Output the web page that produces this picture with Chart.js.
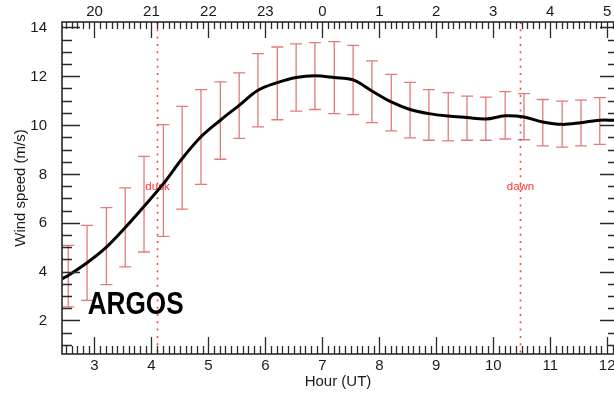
<!DOCTYPE html>
<html>
<head>
<meta charset="utf-8">
<script src="https://cdn.jsdelivr.net/npm/chart.js@4/dist/chart.umd.min.js"></script>
<style>
  html, body { margin: 0; padding: 0; background: #fff; }
  canvas { display: block; }
</style>
</head>
<body>
<canvas id="windChart" width="614" height="396"></canvas>
<script>
// Hour (UT) of each 20-minute bin
const hours = [2.54, 2.87, 3.21, 3.54, 3.87, 4.21, 4.54, 4.87, 5.21, 5.54,
               5.87, 6.21, 6.54, 6.87, 7.21, 7.54, 7.87, 8.21, 8.54, 8.87,
               9.21, 9.54, 9.87, 10.21, 10.54, 10.87, 11.21, 11.54, 11.87];
// mean wind speed (m/s), the black curve
const meanSpeed = [3.84, 4.36, 5.0, 5.8, 6.67, 7.6, 8.63, 9.52, 10.2, 10.81,
                   11.43, 11.74, 11.95, 12.02, 11.95, 11.85, 11.4, 10.95, 10.64, 10.47,
                   10.37, 10.31, 10.25, 10.38, 10.33, 10.13, 10.03, 10.1, 10.2];
// error bar ends
const upperSpeed = [5.07, 5.89, 6.62, 7.43, 8.72, 10.02, 10.77, 11.45, 11.77, 12.14,
                    12.93, 13.2, 13.33, 13.38, 13.42, 13.27, 12.63, 12.08, 11.75, 11.45,
                    11.33, 11.19, 11.15, 11.37, 11.29, 11.05, 10.98, 11.02, 11.13];
const lowerSpeed = [2.55, 2.82, 3.46, 4.19, 4.8, 5.44, 6.56, 7.57, 8.6, 9.46,
                    9.93, 10.22, 10.57, 10.64, 10.47, 10.43, 10.1, 9.76, 9.48, 9.38,
                    9.35, 9.38, 9.38, 9.43, 9.4, 9.15, 9.1, 9.15, 9.21];
// curve where it meets the plot edges
const edgeHours = [2.43, 12.12];
const edgeSpeed = [3.7, 10.2];

// axes
const xTicks = [3, 4, 5, 6, 7, 8, 9, 10, 11, 12];
const topLabels = ['20', '21', '22', '23', '0', '1', '2', '3', '4', '5'];
const yTicks = [2, 4, 6, 8, 10, 12, 14];

// dusk / dawn markers
const eventNames = ['dusk', 'dawn'];
const eventHours = [4.09, 10.47];

const X_MIN = 2.43, X_MAX = 12.12;
const Y_MIN = 0.62, Y_MAX = 14.225;

const FONT_FAMILY = '"Liberation Sans", Arial, sans-serif';
const labelFont = { family: FONT_FAMILY, size: 15 };
const axisColor = '#2a2a2a';

const curve = [{ x: edgeHours[0], y: edgeSpeed[0] }]
    .concat(hours.map((h, i) => ({ x: h, y: meanSpeed[i] })))
    .concat([{ x: edgeHours[1], y: edgeSpeed[1] }]);

// error bars, dusk/dawn lines under the curve
const underlay = {
    id: 'underlay',
    beforeDatasetsDraw(chart) {
        const { ctx, chartArea, scales: { x, y } } = chart;
        ctx.save();
        ctx.beginPath();
        ctx.rect(chartArea.left, chartArea.top, chartArea.width, chartArea.height);
        ctx.clip();

        ctx.strokeStyle = 'rgba(214, 72, 72, 0.72)';
        ctx.lineWidth = 1.3;
        hours.forEach((h, i) => {
            const px = x.getPixelForValue(h);
            const top = y.getPixelForValue(upperSpeed[i]);
            const bot = y.getPixelForValue(lowerSpeed[i]);
            ctx.beginPath();
            ctx.moveTo(px, top); ctx.lineTo(px, bot);
            ctx.moveTo(px - 6, top); ctx.lineTo(px + 6, top);
            ctx.moveTo(px - 6, bot); ctx.lineTo(px + 6, bot);
            ctx.stroke();
        });

        ctx.strokeStyle = 'rgba(255, 50, 50, 0.9)';
        ctx.lineWidth = 1.6;
        ctx.setLineDash([2, 5.3]);
        ctx.fillStyle = 'rgba(255, 40, 40, 0.95)';
        ctx.font = '11.5px ' + FONT_FAMILY;
        ctx.textAlign = 'center';
        ctx.textBaseline = 'middle';
        eventHours.forEach((h, i) => {
            const px = Math.round(x.getPixelForValue(h)) + 0.5;
            ctx.beginPath();
            ctx.moveTo(px, chartArea.top);
            ctx.lineTo(px, chartArea.bottom);
            ctx.stroke();
            ctx.fillText(eventNames[i], px, y.getPixelForValue(7.47));
        });
        ctx.restore();
    }
};

// IDL style frame with inward ticks, tick labels and the ARGOS label
const frame = {
    id: 'frame',
    afterDraw(chart) {
        const { ctx, chartArea: a, scales: { x, y } } = chart;
        ctx.save();
        ctx.fillStyle = '#000';
        ctx.font = 'bold 32px "Liberation Sans Narrow", "Liberation Sans", Arial, sans-serif';
        ctx.textAlign = 'left';
        ctx.textBaseline = 'alphabetic';
        ctx.fillText('ARGOS', x.getPixelForValue(2.88), y.getPixelForValue(2.24), 96);

        // tick labels
        ctx.fillStyle = '#1a1a1a';
        ctx.font = '15px ' + FONT_FAMILY;
        ctx.textBaseline = 'middle';
        ctx.textAlign = 'center';
        xTicks.forEach((v, i) => {
            const px = x.getPixelForValue(v);
            ctx.fillText(String(v), px, a.bottom + 12);
            ctx.fillText(topLabels[i], px, a.top - 10);
        });
        ctx.textAlign = 'right';
        yTicks.forEach(v => {
            ctx.fillText(String(v), a.left - 15, y.getPixelForValue(v) + 0.5);
        });

        ctx.strokeStyle = axisColor;
        ctx.lineWidth = 1.6;
        ctx.strokeRect(a.left, a.top, a.right - a.left + 2, a.bottom - a.top);

        ctx.lineWidth = 1.3;
        ctx.beginPath();
        for (let t = 25; t <= 121; t++) {
            const v = t / 10;
            if (v < X_MIN || v > X_MAX) continue;
            const px = Math.round(x.getPixelForValue(v)) + 0.5;
            const major = t % 10 === 0;
            ctx.moveTo(px, a.bottom); ctx.lineTo(px, a.bottom - (major ? 17 : 8));
            ctx.moveTo(px, a.top); ctx.lineTo(px, a.top + (major ? 16 : 7));
        }
        for (let t = 2; t <= 28; t++) {
            const v = t / 2;
            if (v < Y_MIN || v > Y_MAX) continue;
            const py = Math.round(y.getPixelForValue(v)) + 0.5;
            const major = t % 4 === 0;
            ctx.moveTo(a.left, py); ctx.lineTo(a.left + (major ? 18 : 10), py);
            ctx.moveTo(a.right, py); ctx.lineTo(a.right - (major ? 14 : 6), py);
        }
        ctx.stroke();
        ctx.restore();
    }
};

new Chart(document.getElementById('windChart'), {
    type: 'line',
    data: {
        datasets: [{
            data: curve,
            borderColor: '#000',
            borderWidth: 3,
            pointRadius: 0,
            tension: 0.35,
            fill: false
        }]
    },
    options: {
        responsive: false,
        animation: false,
        layout: { padding: 0 },
        plugins: { legend: { display: false }, tooltip: { enabled: false } },
        scales: {
            x: {
                type: 'linear', position: 'bottom', min: X_MIN, max: X_MAX,
                grid: { display: false }, border: { display: false },
                ticks: { display: false },
                title: { display: true, text: 'Hour (UT)', font: labelFont, color: '#1a1a1a', padding: { top: 0, bottom: 5 } },
                afterFit: s => { s.height = 42; }
            },
            x2: {
                type: 'linear', position: 'top', min: X_MIN, max: X_MAX,
                grid: { display: false }, border: { display: false },
                ticks: { display: false },
                afterFit: s => { s.height = 22; }
            },
            y: {
                min: Y_MIN, max: Y_MAX, position: 'left',
                grid: { display: false }, border: { display: false },
                ticks: { display: false },
                title: { display: true, text: 'Wind speed (m/s)', font: labelFont, color: '#1a1a1a', padding: { top: 12, bottom: 0 } },
                afterFit: s => { s.width = 62; }
            }
        }
    },
    plugins: [underlay, frame]
});
</script>
</body>
</html>
